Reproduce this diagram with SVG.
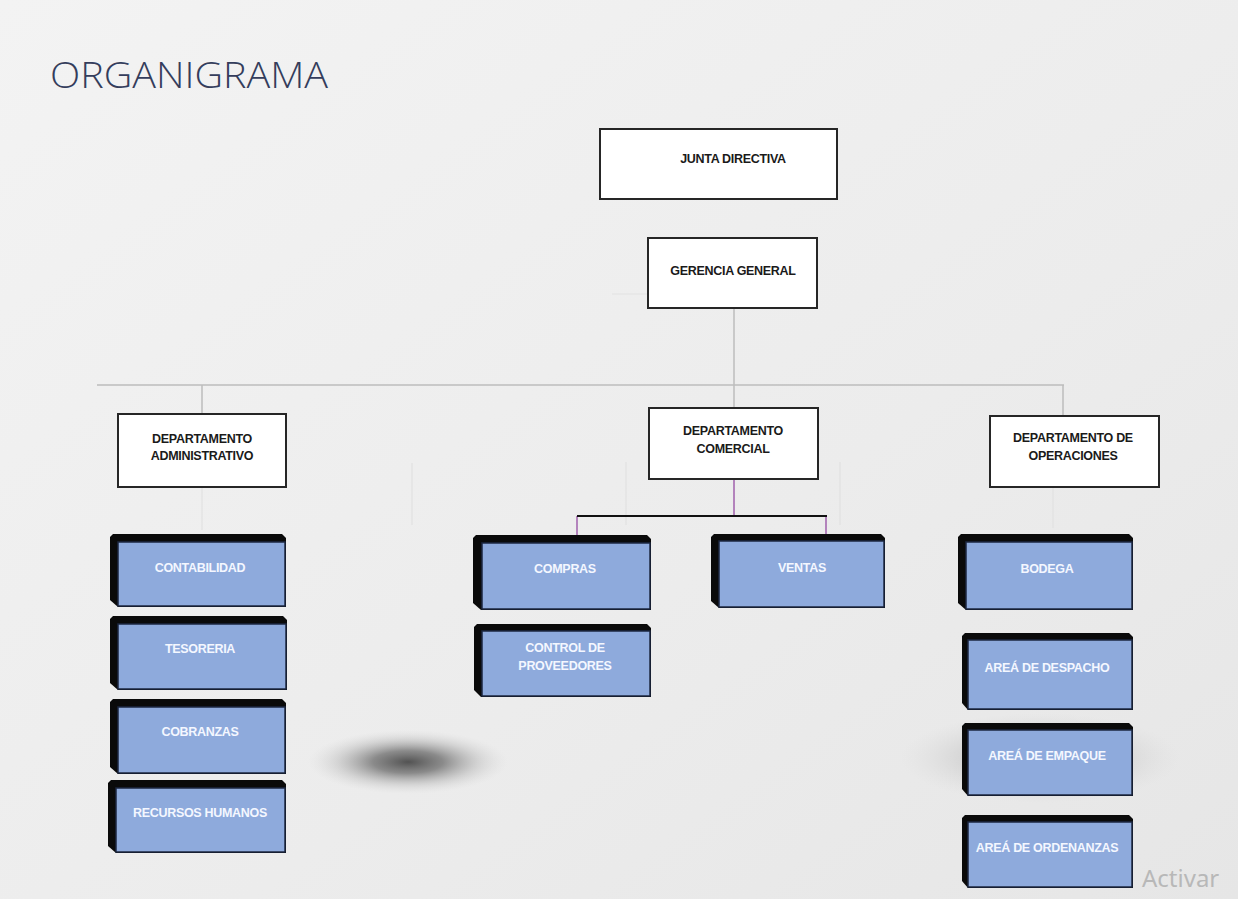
<svg xmlns="http://www.w3.org/2000/svg" width="1238" height="899" viewBox="0 0 1238 899">
<defs>
<linearGradient id="bg" x1="0" y1="0" x2="1" y2="1">
<stop offset="0" stop-color="#f3f3f3"/>
<stop offset="0.6" stop-color="#ececec"/>
<stop offset="1" stop-color="#e6e6e6"/>
</linearGradient>
<radialGradient id="shadow">
<stop offset="0" stop-color="#4a4a4a" stop-opacity="0.95"/>
<stop offset="0.35" stop-color="#6a6a6a" stop-opacity="0.75"/>
<stop offset="0.7" stop-color="#9a9a9a" stop-opacity="0.3"/>
<stop offset="1" stop-color="#cccccc" stop-opacity="0"/>
</radialGradient>
<radialGradient id="shadow2">
<stop offset="0" stop-color="#8a8a8a" stop-opacity="0.6"/>
<stop offset="0.6" stop-color="#aaaaaa" stop-opacity="0.25"/>
<stop offset="1" stop-color="#cccccc" stop-opacity="0"/>
</radialGradient>
<style>
.wbox{fill:#ffffff;stroke:#262626;stroke-width:2}
.wt{font-family:"Liberation Sans",Arial,sans-serif;font-weight:bold;font-size:12.5px;fill:#1a1a1a;text-anchor:middle;letter-spacing:-0.3px}
.bt{font-family:"Liberation Sans",Arial,sans-serif;font-weight:bold;font-size:12.5px;fill:#f4f7ff;text-anchor:middle;letter-spacing:-0.3px}
.ext{fill:#0a0a0a}
.face{fill:#8eaadc;stroke:#1c2740;stroke-width:1.5}
.gl{stroke:#bcbcbc;stroke-width:1.5;fill:none}
.fl{stroke:#e1e1e1;stroke-width:1.2;fill:none}
.pl{stroke:#a060ac;stroke-width:1.5;fill:none}
.kl{stroke:#111111;stroke-width:2;fill:none}
</style>
</defs>
<rect width="1238" height="899" fill="url(#bg)"/>
<ellipse cx="408" cy="762" rx="100" ry="32" fill="url(#shadow)"/>
<ellipse cx="1040" cy="758" rx="140" ry="45" fill="url(#shadow2)"/>
<text x="50" y="88" font-family="'Open Sans','Liberation Sans',sans-serif" font-weight="300" font-size="36" fill="#343d5c" textLength="278" lengthAdjust="spacingAndGlyphs">ORGANIGRAMA</text>
<text x="1142" y="887" font-family="'Noto Sans','Open Sans',sans-serif" font-size="24" fill="#b8b8b8">Activar</text>

<g id="connectors">
<line class="fl" x1="612" y1="294" x2="648" y2="294"/>
<line class="fl" x1="202" y1="487" x2="202" y2="530"/>
<line class="fl" x1="412" y1="463" x2="412" y2="525"/>
<line class="fl" x1="626" y1="462" x2="626" y2="525"/>
<line class="fl" x1="840" y1="462" x2="840" y2="525"/>
<line class="fl" x1="1053" y1="487" x2="1053" y2="528"/>
<line class="gl" x1="734" y1="308" x2="734" y2="408"/>
<line class="gl" x1="97" y1="385" x2="1064" y2="385"/>
<line class="gl" x1="202" y1="385" x2="202" y2="413"/>
<line class="gl" x1="1063" y1="385" x2="1063" y2="416"/>
<line class="pl" x1="734" y1="479" x2="734" y2="516"/>
<line class="pl" x1="577" y1="516" x2="577" y2="536"/>
<line class="pl" x1="826" y1="516" x2="826" y2="540"/>
<line class="kl" x1="577" y1="516" x2="827" y2="516"/>
</g>

<g id="junta"><rect class="wbox" x="600" y="129" width="237" height="70"/><text class="wt" x="733" y="163">JUNTA DIRECTIVA</text></g>
<g id="gerencia"><rect class="wbox" x="648" y="238" width="169" height="70"/><text class="wt" x="733" y="275">GERENCIA GENERAL</text></g>
<g id="admin"><rect class="wbox" x="118" y="414" width="168" height="73"/><text class="wt" x="202" y="443">DEPARTAMENTO</text><text class="wt" x="202" y="460">ADMINISTRATIVO</text></g>
<g id="comercial"><rect class="wbox" x="649" y="408" width="169" height="71"/><text class="wt" x="733" y="435">DEPARTAMENTO</text><text class="wt" x="733" y="453">COMERCIAL</text></g>
<g id="operaciones"><rect class="wbox" x="990" y="416" width="169" height="71"/><text class="wt" x="1073" y="442">DEPARTAMENTO DE</text><text class="wt" x="1073" y="460">OPERACIONES</text></g>

<g id="contabilidad"><polygon class="ext" points="113,534 282,534 286,538 286,607 118,607 110,600 110,537"/><rect class="face" x="118" y="542" width="167" height="64"/><text class="bt" x="200" y="572">CONTABILIDAD</text></g>
<g id="tesoreria"><polygon class="ext" points="113,616 283,616 287,620 287,690 118,690 110,683 110,619"/><rect class="face" x="118" y="624" width="168" height="65"/><text class="bt" x="200" y="653">TESORERIA</text></g>
<g id="cobranzas"><polygon class="ext" points="113,699 282,699 286,703 286,774 118,774 110,767 110,702"/><rect class="face" x="118" y="707" width="167" height="66"/><text class="bt" x="200" y="736">COBRANZAS</text></g>
<g id="rrhh"><polygon class="ext" points="111,780 282,780 286,784 286,853 116,853 108,846 108,783"/><rect class="face" x="116" y="788" width="169" height="64"/><text class="bt" x="200" y="817">RECURSOS HUMANOS</text></g>

<g id="compras"><polygon class="ext" points="476,535 647,535 651,539 651,610 481,610 473,603 473,538"/><rect class="face" x="482" y="543" width="168" height="66"/><text class="bt" x="565" y="573">COMPRAS</text></g>
<g id="proveedores"><polygon class="ext" points="477,624 647,624 651,628 651,697 481,697 474,690 474,627"/><rect class="face" x="482" y="631" width="168" height="65"/><text class="bt" x="565" y="652">CONTROL DE</text><text class="bt" x="565" y="670">PROVEEDORES</text></g>
<g id="ventas"><polygon class="ext" points="714,534 881,534 885,538 885,608 719,608 711,601 711,537"/><rect class="face" x="719" y="541" width="165" height="66"/><text class="bt" x="802" y="572">VENTAS</text></g>

<g id="bodega"><polygon class="ext" points="961,534 1129,534 1133,538 1133,610 966,610 958,603 958,537"/><rect class="face" x="966" y="542" width="166" height="67"/><text class="bt" x="1047" y="573">BODEGA</text></g>
<g id="despacho"><polygon class="ext" points="965,633 1129,633 1133,637 1133,710 968,710 962,703 962,636"/><rect class="face" x="968" y="640" width="164" height="69"/><text class="bt" x="1047" y="672">AREÁ DE DESPACHO</text></g>
<g id="empaque"><polygon class="ext" points="965,723 1129,723 1133,727 1133,796 968,796 962,789 962,726"/><rect class="face" x="968" y="730" width="164" height="65"/><text class="bt" x="1047" y="760">AREÁ DE EMPAQUE</text></g>
<g id="ordenanzas"><polygon class="ext" points="965,815 1129,815 1133,819 1133,888 968,888 962,881 962,818"/><rect class="face" x="968" y="822" width="164" height="65"/><text class="bt" x="1047" y="852">AREÁ DE ORDENANZAS</text></g>
</svg>
